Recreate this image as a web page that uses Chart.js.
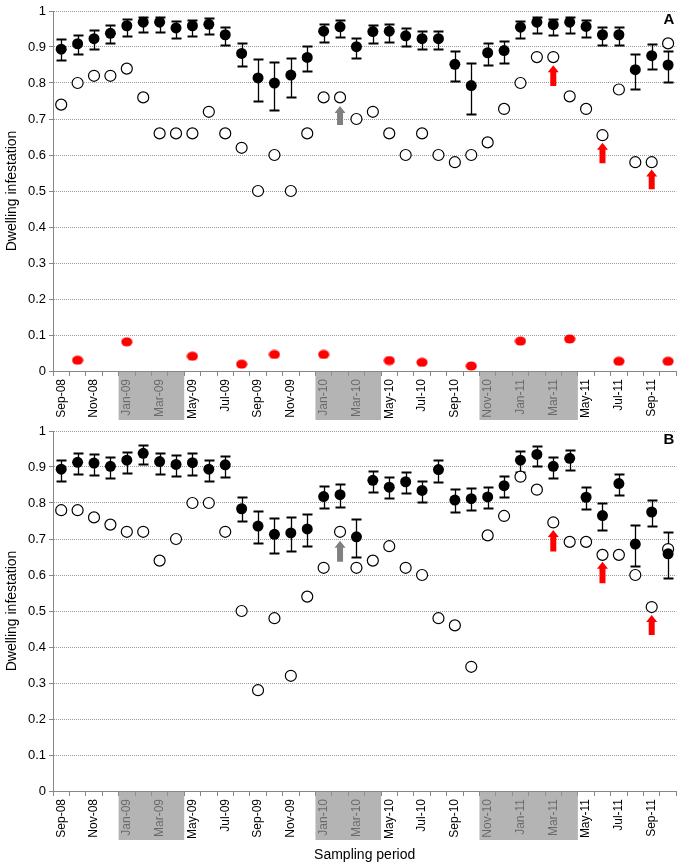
<!DOCTYPE html>
<html>
<head>
<meta charset="utf-8">
<script src="https://cdn.jsdelivr.net/npm/chart.js@4.4.1/dist/chart.umd.min.js"></script>
<style>
  body { margin: 0; background: #fff; }
  .panel { position: absolute; left: 0; width: 683px; }
</style>
</head>
<body>
<div class="panel" style="top:0;height:424px"><canvas id="panelA" width="683" height="424"></canvas></div>
<div class="panel" style="top:420px;height:448px"><canvas id="panelB" width="683" height="448"></canvas></div>
<script>
const months = [
  "Sep-08", "Oct-08", "Nov-08", "Dec-08",
  "Jan-09", "Feb-09", "Mar-09", "Apr-09", "May-09", "Jun-09", "Jul-09", "Aug-09", "Sep-09", "Oct-09", "Nov-09", "Dec-09",
  "Jan-10", "Feb-10", "Mar-10", "Apr-10", "May-10", "Jun-10", "Jul-10", "Aug-10", "Sep-10", "Oct-10", "Nov-10", "Dec-10",
  "Jan-11", "Feb-11", "Mar-11", "Apr-11", "May-11", "Jun-11", "Jul-11", "Aug-11", "Sep-11", "Oct-11",
];

// shaded periods under the x axis
const shadeFrom = ["Jan-09", "Jan-10", "Nov-10"];
const shadeTo = ["Apr-09", "Apr-10", "Apr-11"];

// panel A
const closedA = [0.894, 0.909, 0.923, 0.938, 0.959, 0.969, 0.969, 0.953, 0.959, 0.963,
  0.934, 0.882, 0.814, 0.800, 0.822, 0.871, 0.944, 0.956, 0.901, 0.943,
  0.944, 0.931, 0.923, 0.923, 0.852, 0.793, 0.884, 0.890, 0.955, 0.969,
  0.962, 0.969, 0.957, 0.934, 0.934, 0.837, 0.876, 0.850];
const upperA = [0.921, 0.934, 0.946, 0.960, 0.977, 0.984, 0.984, 0.972, 0.975, 0.981,
  0.955, 0.910, 0.868, 0.859, 0.870, 0.903, 0.964, 0.974, 0.926, 0.961,
  0.964, 0.953, 0.945, 0.945, 0.889, 0.856, 0.912, 0.917, 0.973, 0.984,
  0.979, 0.984, 0.975, 0.956, 0.955, 0.881, 0.907, 0.889];
const lowerA = [0.863, 0.880, 0.894, 0.910, 0.930, 0.941, 0.941, 0.924, 0.930, 0.936,
  0.905, 0.847, 0.749, 0.725, 0.762, 0.833, 0.915, 0.929, 0.870, 0.912,
  0.915, 0.902, 0.894, 0.894, 0.806, 0.714, 0.851, 0.856, 0.924, 0.940,
  0.932, 0.940, 0.929, 0.905, 0.905, 0.783, 0.839, 0.804];
const openA = [0.74, 0.80, 0.82, 0.82, 0.84, 0.76, 0.66, 0.66, 0.66, 0.72,
  0.66, 0.62, 0.50, 0.60, 0.50, 0.66, 0.76, 0.76, 0.70, 0.72,
  0.66, 0.60, 0.66, 0.60, 0.58, 0.60, 0.635, 0.728, 0.80, 0.872,
  0.872, 0.763, 0.728, 0.655, 0.782, 0.58, 0.58, 0.91];
const redA = [null, 0.030, null, null, 0.081, null, null, null, 0.041, null,
  null, 0.019, null, 0.046, null, null, 0.046, null, null, null,
  0.029, null, 0.024, null, null, 0.014, null, null, 0.083, null,
  null, 0.089, null, null, 0.027, null, null, 0.027];

// panel B
const closedB = [0.894, 0.913, 0.911, 0.902, 0.919, 0.938, 0.915, 0.907, 0.912, 0.894,
  0.906, 0.784, 0.736, 0.713, 0.717, 0.728, 0.818, 0.823, 0.706, 0.863,
  0.844, 0.859, 0.835, 0.893, 0.808, 0.812, 0.817, 0.848, 0.919, 0.935,
  0.902, 0.924, 0.816, 0.765, 0.854, 0.686, 0.775, 0.659];
const upperB = [0.919, 0.938, 0.936, 0.927, 0.943, 0.961, 0.940, 0.932, 0.938, 0.919,
  0.931, 0.817, 0.778, 0.759, 0.762, 0.770, 0.847, 0.852, 0.755, 0.889,
  0.871, 0.886, 0.862, 0.919, 0.838, 0.841, 0.845, 0.876, 0.944, 0.958,
  0.928, 0.948, 0.844, 0.801, 0.881, 0.740, 0.808, 0.720];
const lowerB = [0.860, 0.880, 0.878, 0.869, 0.884, 0.907, 0.881, 0.874, 0.879, 0.860,
  0.872, 0.750, 0.689, 0.660, 0.666, 0.680, 0.785, 0.790, 0.651, 0.831,
  0.813, 0.828, 0.803, 0.859, 0.775, 0.780, 0.785, 0.816, 0.887, 0.903,
  0.869, 0.892, 0.782, 0.725, 0.821, 0.626, 0.737, 0.591];
const openB = [0.78, 0.78, 0.76, 0.74, 0.72, 0.72, 0.64, 0.70, 0.80, 0.80,
  0.72, 0.50, 0.28, 0.48, 0.32, 0.54, 0.62, 0.72, 0.62, 0.64,
  0.68, 0.62, 0.60, 0.48, 0.46, 0.345, 0.71, 0.764, 0.873, 0.837,
  0.746, 0.692, 0.692, 0.656, 0.656, 0.60, 0.511, 0.672];

// arrows: month, colour, base and tip values
const arrowMonths = ["Feb-10", "Mar-11", "Jun-11", "Sep-11"];
const arrowColors = ["#808080", "#ff0000", "#ff0000", "#ff0000"];
const arrowBaseA = [0.683, 0.792, 0.577, 0.505];
const arrowTipA = [0.736, 0.849, 0.634, 0.560];
const arrowBaseB = [0.637, 0.665, 0.577, 0.433];
const arrowTipB = [0.695, 0.725, 0.637, 0.489];

const FONT = "'Liberation Sans', Arial, sans-serif";
const AXIS_GREY = "#868686";

// red markers are slightly flattened
const redDot = document.createElement("canvas");
redDot.width = 12;
redDot.height = 10;
(() => {
  const c = redDot.getContext("2d");
  c.fillStyle = "#ff0000";
  c.beginPath();
  c.ellipse(6, 5, 5.6, 4.6, 0, 0, Math.PI * 2);
  c.fill();
})();

const errorBars = {
  id: "errorBars",
  beforeDatasetsDraw(chart, args, opts) {
    const { ctx, scales: { x, y } } = chart;
    ctx.save();
    ctx.strokeStyle = "#000";
    opts.lower.forEach((lo, i) => {
      const px = Math.round(x.getPixelForValue(i)) + 0.5;
      const yl = Math.round(y.getPixelForValue(lo)) + 0.5;
      const yh = Math.round(y.getPixelForValue(opts.upper[i])) + 0.5;
      ctx.lineWidth = 1.3;
      ctx.beginPath();
      ctx.moveTo(px, yl);
      ctx.lineTo(px, yh);
      ctx.stroke();
      ctx.lineWidth = 2;
      ctx.beginPath();
      ctx.moveTo(px - 5, yl);
      ctx.lineTo(px + 5, yl);
      ctx.moveTo(px - 5, yh);
      ctx.lineTo(px + 5, yh);
      ctx.stroke();
    });
    ctx.restore();
  },
};

const arrows = {
  id: "arrows",
  afterDatasetsDraw(chart, args, opts) {
    const { ctx, scales: { x, y } } = chart;
    ctx.save();
    arrowMonths.forEach((m, k) => {
      const px = x.getPixelForValue(months.indexOf(m));
      const yb = y.getPixelForValue(opts.base[k]);
      const yt = y.getPixelForValue(opts.tip[k]);
      ctx.fillStyle = arrowColors[k];
      ctx.beginPath();
      ctx.moveTo(px - 3, yb);
      ctx.lineTo(px - 3, yt + 7);
      ctx.lineTo(px - 5.5, yt + 7);
      ctx.lineTo(px, yt);
      ctx.lineTo(px + 5.5, yt + 7);
      ctx.lineTo(px + 3, yt + 7);
      ctx.lineTo(px + 3, yb);
      ctx.closePath();
      ctx.fill();
    });
    ctx.restore();
  },
};

const shading = {
  id: "shading",
  afterDraw(chart, args, opts) {
    const { ctx, chartArea, scales: { x } } = chart;
    const half = (x.getPixelForValue(1) - x.getPixelForValue(0)) / 2;
    ctx.save();
    ctx.fillStyle = "rgba(148,148,148,0.7)";
    shadeFrom.forEach((from, k) => {
      const x0 = x.getPixelForValue(months.indexOf(from)) - half;
      const x1 = x.getPixelForValue(months.indexOf(shadeTo[k])) + half;
      ctx.fillRect(x0, chartArea.bottom + 1, x1 - x0, 48);
    });
    ctx.fillStyle = "#000";
    ctx.font = "bold 15px " + FONT;
    ctx.textAlign = "right";
    ctx.fillText(opts.label, chartArea.right - 2, chartArea.top + 13);
    ctx.restore();
  },
};

const makePanel = (id, label, closed, upper, lower, open, red, base, tip, xHeight, showTitle) => {
  const datasets = [
    {
      data: closed,
      showLine: false,
      pointRadius: 5.5,
      pointBackgroundColor: "#000",
      pointBorderWidth: 0,
    },
    {
      data: open,
      showLine: false,
      pointRadius: 5.5,
      pointBackgroundColor: "#fff",
      pointBorderColor: "#000",
      pointBorderWidth: 1.2,
    },
  ];
  if (red) {
    datasets.push({
      data: red,
      showLine: false,
      pointStyle: redDot,
    });
  }

  return new Chart(id, {
    type: "line",
    data: { labels: months, datasets },
    plugins: [errorBars, arrows, shading],
    options: {
      responsive: false,
      animation: false,
      layout: { padding: { top: 11, right: 3, left: 0, bottom: 0 } },
      plugins: {
        legend: { display: false },
        tooltip: { enabled: false },
        errorBars: { upper, lower },
        arrows: { base, tip },
        shading: { label },
      },
      scales: {
        x: {
          offset: true,
          grid: { offset: true, drawOnChartArea: false, tickLength: 5, color: AXIS_GREY },
          border: { color: AXIS_GREY },
          ticks: {
            autoSkip: false,
            minRotation: 90,
            maxRotation: 90,
            color: "#000",
            font: { family: FONT, size: 12 },
            callback: (v, i) => (i % 2 === 0 ? months[i] : ""),
          },
          title: {
            display: showTitle,
            text: "Sampling period",
            color: "#000",
            font: { family: FONT, size: 14 },
          },
          afterFit: (s) => {
            s.height = xHeight;
            s.paddingLeft = 0;
            s.paddingRight = 0;
          },
        },
        y: {
          min: 0,
          max: 1,
          grid: {
            color: (c) => (c.tick.value === 0 ? "rgba(0,0,0,0)" : "#9a9a9a"),
            tickColor: AXIS_GREY,
            tickLength: 4,
            tickBorderDash: [],
          },
          border: { color: AXIS_GREY, dash: [1, 1] },
          ticks: {
            stepSize: 0.1,
            color: "#000",
            font: { family: FONT, size: 13 },
            callback: (v) => String(Number(v.toFixed(1))),
          },
          title: {
            display: true,
            text: "Dwelling infestation",
            color: "#000",
            font: { family: FONT, size: 14 },
          },
          afterFit: (s) => {
            s.width = 53;
          },
        },
      },
    },
  });
};

makePanel("panelA", "A", closedA, upperA, lowerA, openA, redA, arrowBaseA, arrowTipA, 53, false);
makePanel("panelB", "B", closedB, upperB, lowerB, openB, null, arrowBaseB, arrowTipB, 77, true);
</script>
</body>
</html>
